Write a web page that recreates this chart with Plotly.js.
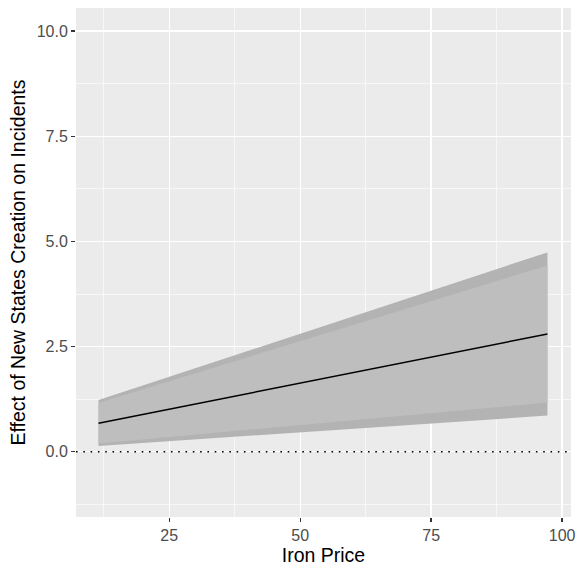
<!DOCTYPE html>
<html><head><meta charset="utf-8">
<script src="https://cdn.plot.ly/plotly-3.0.1.min.js"></script>
<style>html,body{margin:0;padding:0;background:#fff}#chart{width:576px;height:567px}</style>
</head><body><div id="chart"></div>
<script>
// Data
const ironPrice = [11.5, 97.2];
const estimate = [0.68, 2.80];
const outerLower = [0.14, 0.86];
const outerUpper = [1.23, 4.74];
const innerLower = [0.20, 1.17];
const innerUpper = [1.16, 4.43];
const xTicks = [25, 50, 75, 100];
const yTicks = [0, 2.5, 5, 7.5, 10];
const yTickText = ["0.0", "2.5", "5.0", "7.5", "10.0"];

const traces = [
  {x: ironPrice, y: outerLower, mode: 'lines', line: {width: 0}, hoverinfo: 'skip', showlegend: false},
  {x: ironPrice, y: outerUpper, mode: 'lines', line: {width: 0}, fill: 'tonexty', fillcolor: '#b3b3b3', hoverinfo: 'skip', showlegend: false},
  {x: ironPrice, y: innerLower, mode: 'lines', line: {width: 0}, hoverinfo: 'skip', showlegend: false},
  {x: ironPrice, y: innerUpper, mode: 'lines', line: {width: 0}, fill: 'tonexty', fillcolor: '#bebebe', hoverinfo: 'skip', showlegend: false},
  {x: ironPrice, y: estimate, mode: 'lines', line: {color: '#000', width: 1.5}, showlegend: false}
];

const font = {family: 'Liberation Sans, Arial, sans-serif'};
const layout = {
  width: 576, height: 567,
  margin: {l: 76, r: 5, t: 8, b: 50},
  paper_bgcolor: '#fff', plot_bgcolor: '#ebebeb',
  font: {family: font.family, color: '#4d4d4d'},
  xaxis: {
    range: [7.2, 101.7], tickvals: xTicks, ticktext: xTicks.map(String),
    showgrid: true, gridcolor: '#fff', gridwidth: 1.3, zeroline: false,
    ticks: 'outside', ticklen: 4, tickwidth: 1.3, tickcolor: '#333',
    tickfont: {size: 16, color: '#4d4d4d', family: font.family},
    minor: {tickvals: [12.5, 37.5, 62.5, 87.5], showgrid: true, gridcolor: '#fff', gridwidth: 0.6, ticks: ''},
    title: {text: 'Iron Price', font: {size: 19.5, color: '#000', family: font.family}, standoff: 1},
    showline: false
  },
  yaxis: {
    range: [-1.55, 10.55], tickvals: yTicks, ticktext: yTickText,
    showgrid: true, gridcolor: '#fff', gridwidth: 1.3, zeroline: false,
    ticks: 'outside', ticklen: 4, tickwidth: 1.3, tickcolor: '#333',
    tickfont: {size: 16, color: '#4d4d4d', family: font.family},
    minor: {tickvals: [-1.25, 1.25, 3.75, 6.25, 8.75], showgrid: true, gridcolor: '#fff', gridwidth: 0.6, ticks: ''},
    title: {text: 'Effect of New States Creation on Incidents', font: {size: 19.5, color: '#000', family: font.family}, standoff: 5},
    showline: false
  },
  shapes: [
    {type: 'line', xref: 'paper', x0: 0, x1: 1, yref: 'y', y0: 0, y1: 0,
     line: {color: '#000', width: 1.6, dash: '1.6px,5.7px'}}
  ]
};
Plotly.newPlot('chart', traces, layout, {displayModeBar: false, staticPlot: true});
</script>
</body></html>
